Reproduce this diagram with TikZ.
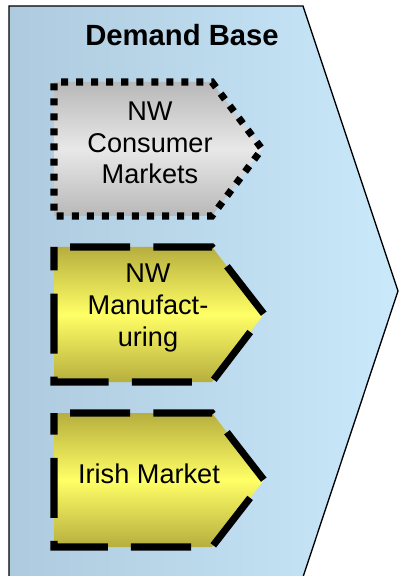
\documentclass[tikz,border=0pt]{standalone}
\usepackage{fontspec}
\setmainfont{Liberation Sans}

\definecolor{baseleft}{RGB}{174,202,222}
\definecolor{baseright}{RGB}{202,233,251}
\definecolor{greyedge}{RGB}{184,184,184}
\definecolor{greymid}{RGB}{232,232,232}
\definecolor{yellowedge}{RGB}{182,174,62}
\definecolor{yellowmid}{RGB}{255,255,102}

\tikzset{
  basearrow/.style = {draw = black, line width = .95pt, line join = miter,
                      left color = baseleft, right color = baseright},
  greybox/.style   = {draw = black, line width = 5pt, line join = miter,
                      dash pattern = on 5pt off 5.7pt, dash phase = 5.7pt,
                      top color = greyedge, bottom color = greyedge, middle color = greymid},
  yellowbox/.style = {draw = black, line width = 5pt, line join = miter,
                      dash pattern = on 42.7pt off 16.4pt, dash phase = 47.6pt,
                      top color = yellowedge, bottom color = yellowedge, middle color = yellowmid},
  boxtext/.style   = {align = center, inner sep = 0pt,
                      font = \fontsize{19.3pt}{22.5pt}\selectfont}
}

\begin{document}
\begin{tikzpicture}[x = .025cm, y = -.025cm]
  \useasboundingbox (0,0) rectangle (399,576);

  % big arrow behind everything
  \draw[basearrow] (9,6) -- (303,6) -- (398,291) -- (302,580) -- (9,580) -- cycle;
  \node[inner sep = 0pt, font = \fontsize{20.8pt}{24pt}\selectfont\bfseries] (title) at (182,35) {Demand Base};

  % consumer markets (dotted)
  \draw[greybox] (54,82) -- (212,82) -- (262,149) -- (212,216) -- (54,216) -- cycle;
  \node[boxtext] (consumer) at (150,143) {NW\\Consumer\\Markets};

  % manufacturing (dashed)
  \draw[yellowbox] (54,247) -- (212,247) -- (264,314) -- (212,382) -- (54,382) -- cycle;
  \node[boxtext] (manufacturing) at (148,308) {NW\\Manufact-\\uring};

  % irish market (dashed)
  \draw[yellowbox] (54,413) -- (212,413) -- (264,480) -- (212,547) -- (54,547) -- cycle;
  \node[boxtext] (irish) at (149,474) {Irish Market};
\end{tikzpicture}
\end{document}
